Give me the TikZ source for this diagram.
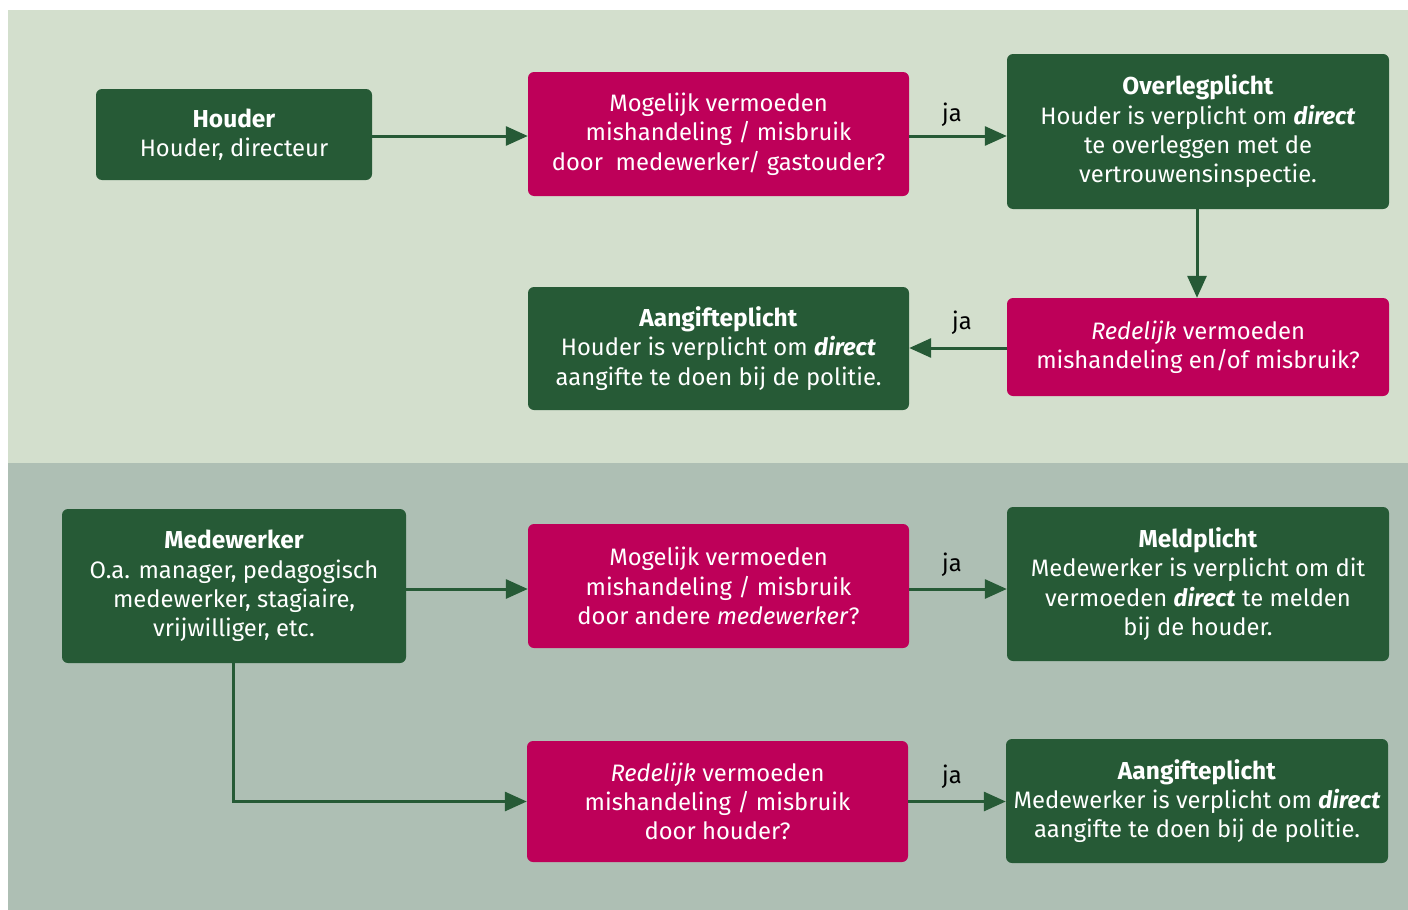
\documentclass[tikz,border=0pt]{standalone}
\usepackage{fontspec}
\setmainfont{Fira Sans}
\usetikzlibrary{arrows.meta}
\definecolor{topbg}{HTML}{D3DFCD}
\definecolor{botbg}{HTML}{AEBFB4}
\definecolor{dgreen}{HTML}{265A36}
\definecolor{magenta}{HTML}{BE0059}
\newcommand{\hd}[1]{{\fontsize{24.5}{29}\selectfont\textbf{#1}}}
\begin{document}
\begin{tikzpicture}[x=1pt,y=-1pt,
  box/.style={rounded corners=6pt, inner sep=0pt, align=center, text=white,
    font=\fontsize{23.8}{29.3}\selectfont},
  gbox/.style={box, fill=dgreen},
  mbox/.style={box, fill=magenta},
  conn/.style={draw=dgreen, line width=3pt, -{Triangle[length=22pt,width=19pt]}},
  lbl/.style={font=\fontsize{23.8}{29}\selectfont, text=black, inner sep=0pt}]
\useasboundingbox (0,0) rectangle (1408,910);
\fill[topbg] (8,10) rectangle (1408,463);
\fill[botbg] (8,463) rectangle (1408,910);

\node[gbox, minimum width=276pt, minimum height=91pt] (houder) at (234,134.5)
  {\hd{Houder}\\Houder, directeur};
\node[mbox, minimum width=381pt, minimum height=124pt] (mog1) at (718.5,134)
  {Mogelijk vermoeden\\mishandeling / misbruik\\door\ \ medewerker/ gastouder?};
\node[gbox, minimum width=382pt, minimum height=155pt] (overleg) at (1198,131.5)
  {\hd{Overlegplicht}\\Houder is verplicht om \textbf{\textit{direct}}\\te overleggen met de\\vertrouwensinspectie.};
\node[mbox, minimum width=382pt, minimum height=98pt] (red1) at (1198,347)
  {\textit{Redelijk} vermoeden\\mishandeling en/of misbruik?};
\node[gbox, minimum width=381pt, minimum height=123pt] (aang1) at (718.5,348.5)
  {\hd{Aangifteplicht}\\Houder is verplicht om \textbf{\textit{direct}}\\aangifte te doen bij de politie.};

\node[gbox, minimum width=344pt, minimum height=154pt] (mede) at (234,586)
  {\hd{Medewerker}\\O.a. manager, pedagogisch\\medewerker, stagiaire,\\vrijwilliger, etc.};
\node[mbox, minimum width=381pt, minimum height=124pt] (mog2) at (718.5,586)
  {Mogelijk vermoeden\\mishandeling / misbruik\\door andere \textit{medewerker}?};
\node[gbox, minimum width=382pt, minimum height=154pt] (meld) at (1198,584)
  {\hd{Meldplicht}\\Medewerker is verplicht om dit\\vermoeden \textbf{\textit{direct}} te melden\\bij de houder.};
\node[mbox, minimum width=381pt, minimum height=121pt] (red2) at (717.5,801.5)
  {\textit{Redelijk} vermoeden\\mishandeling / misbruik\\door houder?};
\node[gbox, minimum width=382pt, minimum height=124pt] (aang2) at (1197,801)
  {\hd{Aangifteplicht}\\Medewerker is verplicht om \textbf{\textit{direct}}\\aangifte te doen bij de politie.};

\draw[conn] ([yshift=-1.5pt]houder.east) -- ([yshift=-1.5pt]houder.east -| mog1.west);
\draw[conn] ([yshift=-2pt]mog1.east) -- ([yshift=-2pt]mog1.east -| overleg.west);
\draw[conn] ([xshift=-1pt]overleg.south) -- ([xshift=-1pt]red1.north);
\draw[conn] ([yshift=-1pt]red1.west) -- ([yshift=-1pt]red1.west -| aang1.east);
\draw[conn] ([yshift=-3pt]mede.east) -- ([yshift=-3pt]mede.east -| mog2.west);
\draw[conn] ([yshift=-3pt]mog2.east) -- ([yshift=-3pt]mog2.east -| meld.west);
\draw[conn] ([xshift=-1pt]mede.south) |- (red2.west);
\draw[conn] (red2.east) -- (red2.east -| aang2.west);

\node[lbl] (ja1) at (952,115) {ja};
\node[lbl] (ja2) at (962,323) {ja};
\node[lbl] (ja3) at (952,565) {ja};
\node[lbl] (ja4) at (952,777) {ja};
\end{tikzpicture}
\end{document}
